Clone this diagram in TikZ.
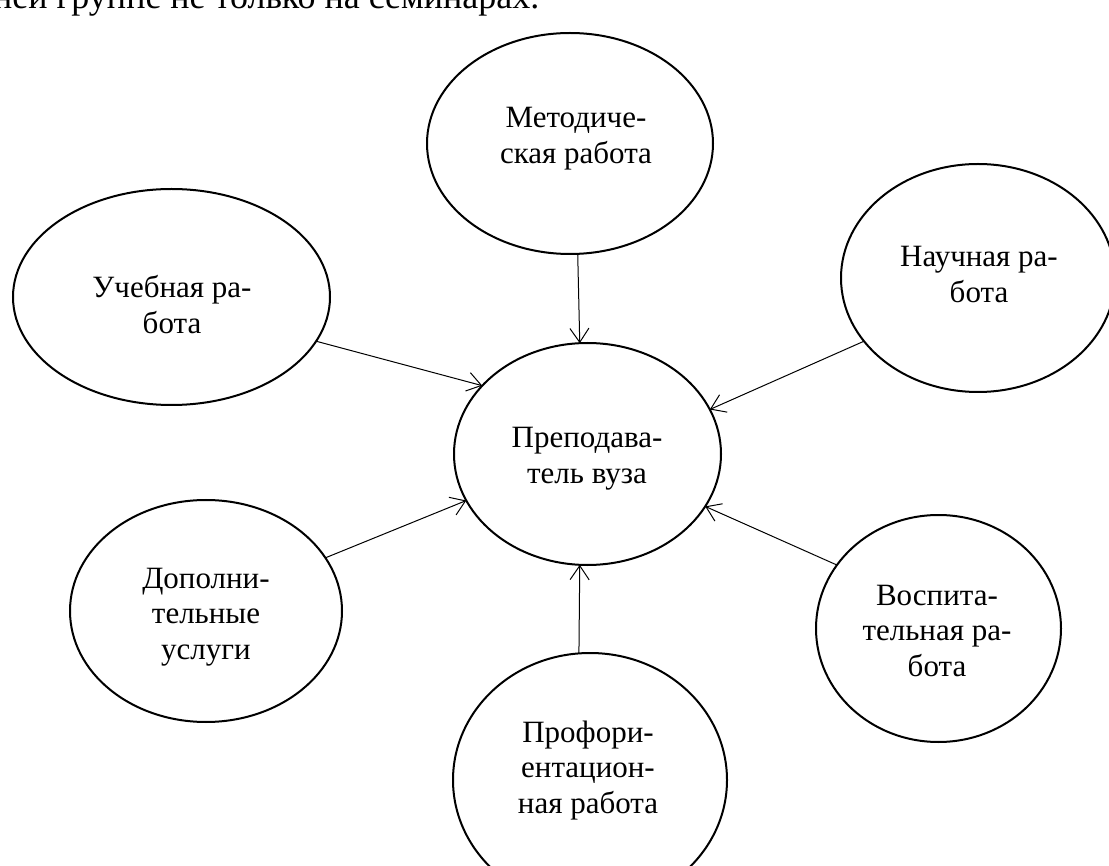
\documentclass[tikz,border=0pt]{standalone}
\usepackage{fontspec}
\setmainfont{Liberation Serif}
\usetikzlibrary{shapes.geometric,arrows.meta}
\newcommand{\mylines}[1]{\begin{tabular}[t]{@{}c@{}}#1\end{tabular}}
\begin{document}
\begin{tikzpicture}[x=1pt,y=-1pt,
  ell/.style={ellipse,draw,line width=2pt,inner sep=0pt,outer sep=0pt},
  lbl/.style={anchor=base,inner sep=0pt,font=\fontsize{31}{35.5}\selectfont},
  link/.style={line width=1pt,-{Straight Barb[length=14pt,width=19pt]}},
]
\useasboundingbox (0,0) rectangle (1109,866);
\clip (0,0) rectangle (1109,866);
\fill[white] (0,0) rectangle (1109,866);

\node[anchor=base west,inner sep=0pt,font=\fontsize{36}{41}\selectfont] (hdr) at (-7,9) {ней группе не только на семинарах.};

\node[ell,minimum width=286pt,minimum height=221pt] (met) at (570,143.5) {};
\node[lbl] (met-t) at (576,128) {\mylines{Методиче-\\ская работа}};

\node[ell,minimum width=317pt,minimum height=216pt] (ucheb) at (171.5,297) {};
\node[lbl] (ucheb-t) at (172,298) {\mylines{Учебная ра-\\бота}};

\node[ell,minimum width=274pt,minimum height=228pt] (nauch) at (978,278) {};
\node[lbl] (nauch-t) at (979,267) {\mylines{Научная ра-\\бота}};

\node[ell,minimum width=267pt,minimum height=222pt] (c) at (587.5,454) {};
\node[lbl] (c-t) at (587,448) {\mylines{Преподава-\\тель вуза}};

\node[ell,minimum width=272pt,minimum height=222pt] (dop) at (206,611) {};
\node[lbl] (dop-t) at (206,588) {\mylines{Дополни-\\тельные\\услуги}};

\node[ell,minimum width=245pt,minimum height=227pt] (vosp) at (938.5,628.5) {};
\node[lbl] (vosp-t) at (937,605) {\mylines{Воспита-\\тельная ра-\\бота}};

\node[ell,minimum width=274pt,minimum height=254pt] (prof) at (590,780) {};
\node[lbl] (prof-t) at (588,742) {\mylines{Профори-\\ентацион-\\ная работа}};

\draw[link] (met.-86.4) -- (c.94.9);
\draw[link] (ucheb.-17.3) -- (c.147.7);
\draw[link] (nauch.-151.2) -- (c.20.1);
\draw[link] (dop.24.5) -- (c.-159);
\draw[link] (vosp.148.1) -- (c.-24.3);
\draw[link] (prof.95.8) -- (c.-94.9);
\end{tikzpicture}
\end{document}
